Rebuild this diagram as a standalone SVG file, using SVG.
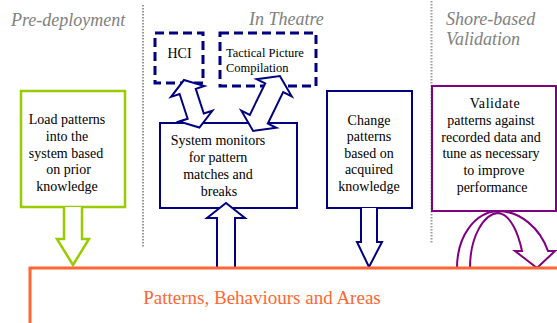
<svg xmlns="http://www.w3.org/2000/svg" width="557" height="323" viewBox="0 0 557 323">
<style>
.hdr{font-family:"Liberation Serif","Tinos","Times New Roman","DejaVu Serif",serif;font-style:italic;font-size:18px;fill:#808080}
.t{font-family:"Liberation Serif","Tinos","Times New Roman","DejaVu Serif",serif;font-size:14px;fill:#000;text-anchor:middle}
.ts{font-family:"Liberation Serif","Tinos","Times New Roman","DejaVu Serif",serif;font-size:12.5px;fill:#000}
.big{font-family:"Liberation Serif","Tinos","Times New Roman","DejaVu Serif",serif;font-size:19px;fill:#FF6633;text-anchor:middle}
.div{stroke:#999;stroke-width:2;stroke-dasharray:1.5 1.5;fill:none}
.navy{stroke:#000080;stroke-width:2;fill:#fff}
.dash{stroke:#000080;stroke-width:3;stroke-dasharray:9 5;fill:#fff}
.green{stroke:#99CC00;stroke-width:2.5;fill:#fff}
.purple{stroke:#800080;stroke-width:2;fill:#fff}
.orange{stroke:#FF6633;stroke-width:3;fill:#fff}
</style>
<rect width="557" height="323" fill="#fff"/>
<g id="headers">
<text class="hdr" x="11" y="26">Pre-deployment</text>
<text class="hdr" x="249" y="25">In Theatre</text>
<text class="hdr" x="446" y="25">Shore-based</text>
<text class="hdr" x="446" y="45">Validation</text>
<line class="div" x1="143" y1="5" x2="143" y2="248"/>
<line class="div" x1="431.5" y1="1" x2="431.5" y2="243"/>
</g>
<g id="load">
<rect class="green" x="21" y="91" width="104" height="116"/>
<text class="t" x="67" y="124">Load patterns</text>
<text class="t" x="67" y="140.8">into the</text>
<text class="t" x="66" y="157.5">system based</text>
<text class="t" x="68.5" y="174.3">on prior</text>
<text class="t" x="67" y="191">knowledge</text>
</g>
<g id="hci">
<rect class="dash" x="155" y="33" width="48" height="50"/>
<text class="t" x="179.5" y="58">HCI</text>
</g>
<g id="tpc">
<rect class="dash" x="220" y="33" width="96" height="53"/>
<text class="ts" x="226" y="57">Tactical Picture</text>
<text class="ts" x="226" y="71.5">Compilation</text>
</g>
<g id="monitor">
<rect class="navy" x="160" y="123" width="137" height="85"/>
<text class="t" x="218" y="145.3">System monitors</text>
<text class="t" x="218" y="162">for pattern</text>
<text class="t" x="218" y="179">matches and</text>
<text class="t" x="219" y="196">breaks</text>
</g>
<g id="change">
<rect class="navy" x="327" y="91" width="85" height="117"/>
<text class="t" x="369" y="124.5">Change</text>
<text class="t" x="369" y="141">patterns</text>
<text class="t" x="369" y="157.5">based on</text>
<text class="t" x="369" y="174.3">acquired</text>
<text class="t" x="369" y="191">knowledge</text>
</g>
<g id="validate">
<rect class="purple" x="432" y="86" width="124" height="125"/>
<text class="t" x="495" y="108" letter-spacing="0.6">Validate</text>
<text class="t" x="491" y="124.8">patterns against</text>
<text class="t" x="491" y="141.6">recorded data and</text>
<text class="t" x="491" y="158.4">tune as necessary</text>
<text class="t" x="494" y="175.2">to improve</text>
<text class="t" x="492" y="192">performance</text>
</g>
<g id="connectors">
<path class="green" d="M64,207 V239 H57 L73,265 L89,239 H82 V207"/>
<path class="navy" d="M361,208 V242 H357 L369,267 L382,242 H377 V208"/>
<polygon class="navy" points="217,268 217,218 207,218 226,203 245,218 235,218 235,268"/>
<polygon class="navy" transform="translate(191.7,103.8) rotate(-18)" points="0,-25 17.5,-13 8.5,-13 8.5,13 17.5,13 0,25 -17.5,13 -8.5,13 -8.5,-13 -17.5,-13"/>
<polygon class="navy" transform="translate(266.5,103.5) rotate(26)" points="0,-30.5 19.5,-17.5 10,-17.5 10,17.5 19.5,17.5 0,30.5 -19.5,17.5 -10,17.5 -10,-17.5 -19.5,-17.5"/>
<path class="purple" d="M457,268 C457,236 475,212 498,211 C520,211 540,228 548,251 L555,251 L537,268 L515,251 L522,251 C518,232 510,214 498,213 C484,214 470,236 470,268 Z"/>
</g>
<g id="patterns">
<rect class="orange" x="30" y="268" width="540" height="70"/>
<text class="big" x="262" y="304">Patterns, Behaviours and Areas</text>
</g>
</svg>
